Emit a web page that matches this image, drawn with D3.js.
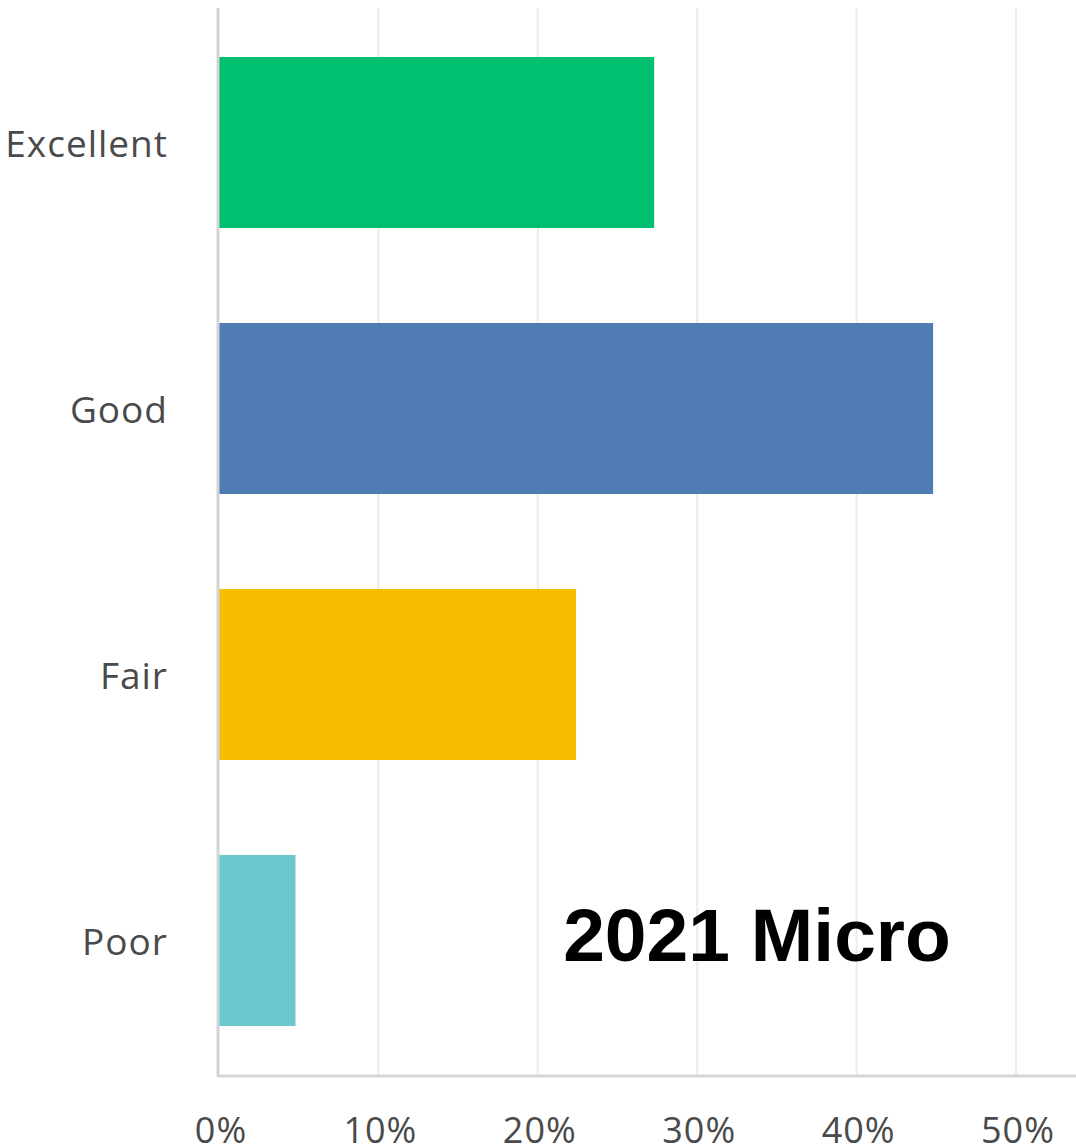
<!DOCTYPE html>
<html>
<head>
<meta charset="utf-8">
<script src="https://cdn.jsdelivr.net/npm/d3@7"></script>
<style>
  body { margin: 0; background: #fff; }
</style>
</head>
<body>
<div id="chart"></div>
<script>
var width = 1076;
var height = 1148;
var margin = { top: 8, right: 0, bottom: 72, left: 219 };

var categories = ["Excellent", "Good", "Fair", "Poor"];
var values = [27.3, 44.8, 22.4, 4.8];
var colors = ["#00bf6f", "#507cb6", "#f7bd00", "#6bc8cd"];
var ticks = [0, 10, 20, 30, 40, 50];

var xScale = d3.scaleLinear()
    .domain([0, 50])
    .range([margin.left, 1016]);

var yScale = d3.scaleBand()
    .domain(categories)
    .range([57, 1026])
    .paddingInner(0.357)
    .paddingOuter(0);

var svg = d3.select("#chart")
    .append("svg")
    .attr("width", width)
    .attr("height", height);

// gridlines
svg.selectAll("line.grid")
    .data(ticks.slice(1))
    .enter()
    .append("line")
    .attr("class", "grid")
    .attr("x1", function(d) { return xScale(d); })
    .attr("x2", function(d) { return xScale(d); })
    .attr("y1", margin.top)
    .attr("y2", height - margin.bottom)
    .attr("stroke", "#ebebeb")
    .attr("stroke-width", 2);

// bars
svg.selectAll("rect.bar")
    .data(values)
    .enter()
    .append("rect")
    .attr("class", "bar")
    .attr("x", xScale(0))
    .attr("y", function(d, i) { return yScale(categories[i]); })
    .attr("width", function(d) { return xScale(d) - xScale(0); })
    .attr("height", yScale.bandwidth())
    .attr("fill", function(d, i) { return colors[i]; });

// axis lines
svg.append("line")
    .attr("x1", margin.left - 1)
    .attr("x2", margin.left - 1)
    .attr("y1", margin.top)
    .attr("y2", height - margin.bottom + 1)
    .attr("stroke", "#d3d3d3")
    .attr("stroke-width", 3);

svg.append("line")
    .attr("x1", margin.left - 2)
    .attr("x2", width)
    .attr("y1", height - margin.bottom)
    .attr("y2", height - margin.bottom)
    .attr("stroke", "#d6d6d6")
    .attr("stroke-width", 3);

// category labels
svg.selectAll("text.cat")
    .data(categories)
    .enter()
    .append("text")
    .attr("class", "cat")
    .attr("x", 168)
    .attr("y", function(d) { return yScale(d) + yScale.bandwidth() / 2 + 2; })
    .attr("dy", "0.35em")
    .attr("text-anchor", "end")
    .attr("font-family", "Open Sans, sans-serif")
    .attr("font-size", 37)
    .attr("letter-spacing", 1)
    .attr("fill", "#4a4a4a")
    .text(function(d) { return d; });

// tick labels
svg.selectAll("text.tick")
    .data(ticks)
    .enter()
    .append("text")
    .attr("class", "tick")
    .attr("x", function(d) { return xScale(d) + 2; })
    .attr("y", 1143)
    .attr("text-anchor", "middle")
    .attr("font-family", "Open Sans, sans-serif")
    .attr("font-size", 36)
    .attr("letter-spacing", 1)
    .attr("fill", "#4a4a4a")
    .text(function(d) { return d + "%"; });

// title
svg.append("text")
    .attr("x", 757)
    .attr("y", 961)
    .attr("text-anchor", "middle")
    .attr("font-family", "Liberation Sans, Arial, sans-serif")
    .attr("font-weight", "bold")
    .attr("font-size", 75)
    .attr("fill", "#000")
    .text("2021 Micro");
</script>
</body>
</html>
